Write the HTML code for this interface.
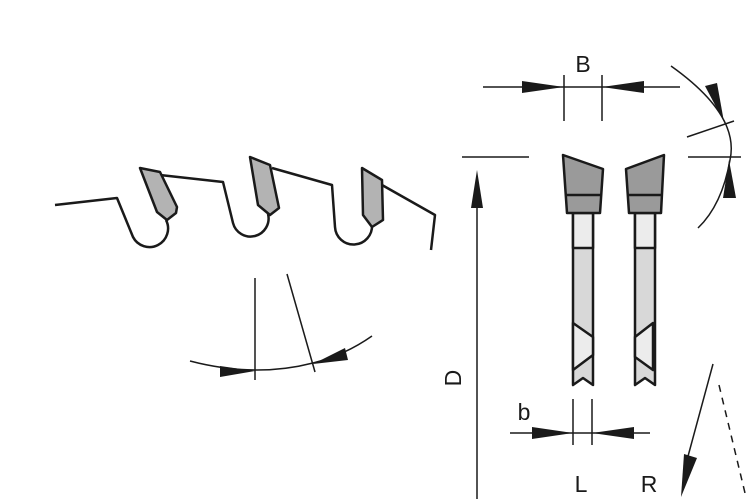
<!DOCTYPE html>
<html><head><style>body{margin:0;background:#fff}svg{display:block}</style></head><body>
<svg width="749" height="499" viewBox="0 0 749 499" xmlns="http://www.w3.org/2000/svg" font-family="Liberation Sans, sans-serif">
<g fill="none" stroke="#1a1a1a" stroke-width="2.5" stroke-linejoin="round">
<path d="M55,205 L117,198 L133,237 A18,18 0 0 0 166,220"/>
<path d="M160,175 L223,182 L233,223 A18,18 0 0 0 268,214"/>
<path d="M272,168 L332,185 L335,227 A18,18 0 0 0 372,225"/>
<path d="M382,185 L435,215 L431,250"/>
<path d="M140,168 L160,172 L177,207 L176,213 L167,220 L157,212 Z" fill="#b3b3b3"/>
<path d="M250,157 L270,165 L279,208 L270,215 L258,205 Z" fill="#b3b3b3"/>
<path d="M362,168 L382,180 L383,220 L372,227 L363,215 Z" fill="#b3b3b3"/>
<path d="M573,213 L593,213 L593,385 L583,378 L573,385 Z" fill="#d8d8d8"/>
<path d="M573,213 L593,213 L593,248 L573,248 Z" fill="#ececec"/>
<path d="M573,323 L593,337 L593,355 L573,370 Z" fill="#ececec"/>
<path d="M563,155 L603,169 L600,213 L567,213 Z" fill="#9a9a9a"/>
<path d="M565,195 L601,195"/>
<path d="M635,213 L655,213 L655,385 L645,378 L635,385 Z" fill="#d8d8d8"/>
<path d="M635,213 L655,213 L655,248 L635,248 Z" fill="#ececec"/>
<path d="M653,323 L635,337 L635,357 L653,370 Z" fill="#ececec"/>
<path d="M626,169 L664,155 L661,213 L629,213 Z" fill="#9a9a9a"/>
<path d="M627,195 L663,195"/>
</g>
<g fill="none" stroke="#1a1a1a" stroke-width="1.5">
<path d="M483,87 H680"/><path d="M564,75 V121 M602,75 V121"/>
<path d="M462,157 H529"/><path d="M477,200 V499"/>
<path d="M510,433 H650"/><path d="M573,399 V445 M592,399 V445"/>
<path d="M671,66 Q740,115 730,160 Q722,205 698,228"/>
<path d="M687,137 L734,121"/><path d="M688,157 H741"/>
<path d="M190,361 Q255,378 313,363 Q345,355 372,336"/>
<path d="M255,278 V380"/><path d="M287,274 L315,372"/>
<path d="M713,364 L687,460"/>
<path d="M719,385 L745,493" stroke-dasharray="7,6"/>
</g>
<g fill="#1a1a1a">
<path d="M522,81 L564,87 L522,93 Z"/><path d="M644,81 L602,87 L644,93 Z"/>
<path d="M477,170 L483,208 L471,208 Z"/>
<path d="M532,427 L573,433 L532,439 Z"/><path d="M634,427 L592,433 L634,439 Z"/>
<path d="M705,86 L717,83 L724,122 Z"/><path d="M723,198 L736,198 L729,160 Z"/>
<path d="M220,366 L255,371 L220,377 Z"/><path d="M345,348 L348,360 L313,364 Z"/>
<path d="M684,454 L697,458 L681,497 Z"/>
</g>
<g fill="#1a1a1a" font-size="23">
<text x="583" y="72" text-anchor="middle">B</text>
<text x="524" y="420" text-anchor="middle">b</text>
<text x="581" y="492" text-anchor="middle">L</text>
<text x="649" y="492" text-anchor="middle">R</text>
<text x="461" y="378" text-anchor="middle" transform="rotate(-90 461 378)">D</text>
</g>
</svg>
</body></html>
